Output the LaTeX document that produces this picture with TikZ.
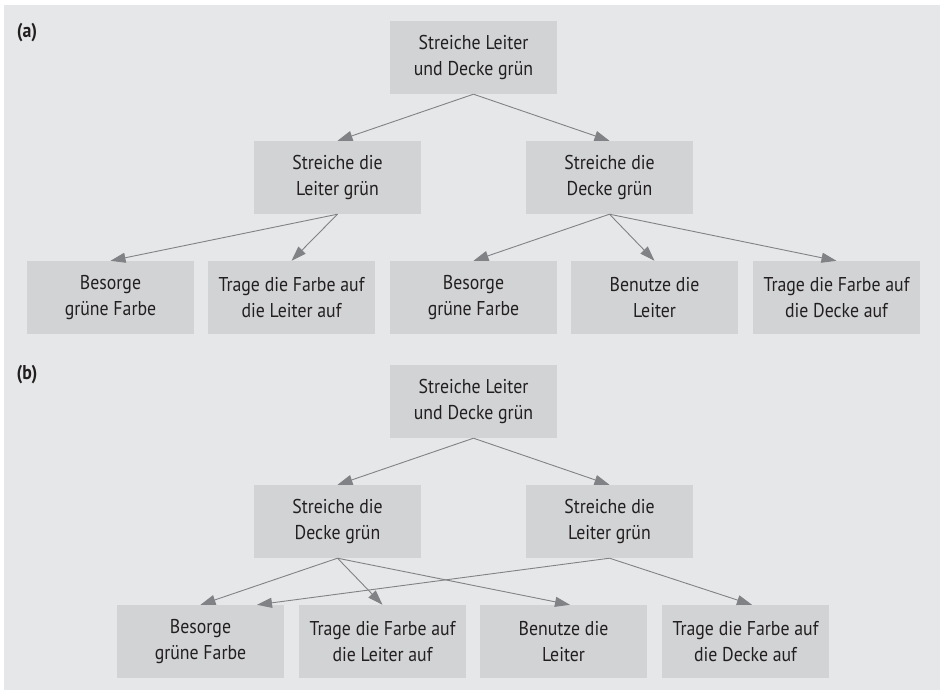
\documentclass[tikz,border=0pt]{standalone}
\usepackage{fontspec}
\setmainfont{PT Sans}[FakeStretch=0.89]
\usetikzlibrary{arrows.meta}
\definecolor{panel}{HTML}{E6E7E8}
\definecolor{boxfill}{HTML}{D1D3D4}
\definecolor{arrowgray}{HTML}{808285}
\definecolor{txt}{HTML}{231F20}
\tikzset{
  task/.style={rectangle, fill=boxfill, minimum width=167pt, minimum height=73pt,
    inner sep=0pt, align=center, text=txt,
    font=\fontsize{20}{25.5}\selectfont},
  link/.style={draw=arrowgray, line width=0.9pt,
    -{Triangle[length=15pt,width=10pt]}},
  panellabel/.style={font=\fontsize{20}{24}\selectfont\bfseries, text=txt, inner sep=0pt}
}
\begin{document}
\begin{tikzpicture}[x=1pt,y=-1pt]
\useasboundingbox (0,0) rectangle (940,690);
\fill[panel] (4,5) rectangle (940,690);

% (a)
\node[panellabel] (la) at (27,33) {(a)};
\node[task] (at) at (473.5,57.5) {Streiche Leiter\\und Decke grün};
\node[task] (al) at (337.5,177.5) {Streiche die\\Leiter grün};
\node[task] (ar) at (609.5,177.5) {Streiche die\\Decke grün};
\node[task] (a1) at (110.5,297.5) {Besorge\\grüne Farbe};
\node[task] (a2) at (291.5,297.5) {Trage die Farbe auf\\die Leiter auf};
\node[task] (a3) at (473.5,297.5) {Besorge\\grüne Farbe};
\node[task] (a4) at (654.5,297.5) {Benutze die\\Leiter};
\node[task] (a5) at (836.5,297.5) {Trage die Farbe auf\\die Decke auf};

\draw[link] (at.south) -- (al.north);
\draw[link] (at.south) -- (ar.north);
\draw[link] (al.south) -- (a1.north);
\draw[link] (al.south) -- (a2.north);
\draw[link] (ar.south) -- (a3.north);
\draw[link] (ar.south) -- (a4.north);
\draw[link] (ar.south) -- (a5.north);

% (b)
\node[panellabel] (lb) at (27,375) {(b)};
\node[task] (bt) at (473.5,401.5) {Streiche Leiter\\und Decke grün};
\node[task] (bl) at (337.5,521.5) {Streiche die\\Decke grün};
\node[task] (br) at (609.5,521.5) {Streiche die\\Leiter grün};
\node[task] (b1) at (200.5,641.5) {Besorge\\grüne Farbe};
\node[task] (b2) at (382.5,641.5) {Trage die Farbe auf\\die Leiter auf};
\node[task] (b3) at (563.5,641.5) {Benutze die\\Leiter};
\node[task] (b4) at (745.5,641.5) {Trage die Farbe auf\\die Decke auf};

\draw[link] (bt.south) -- (bl.north);
\draw[link] (bt.south) -- (br.north);
\draw[link] (bl.south) -- (b1.north);
\draw[link] (bl.south) -- (b2.north);
\draw[link] (bl.south) -- ([xshift=6.5pt]b3.north);
\draw[link] (br.south) -- ([xshift=56.5pt]b1.north);
\draw[link] (br.south) -- ([xshift=6.5pt]b4.north);
\end{tikzpicture}
\end{document}
